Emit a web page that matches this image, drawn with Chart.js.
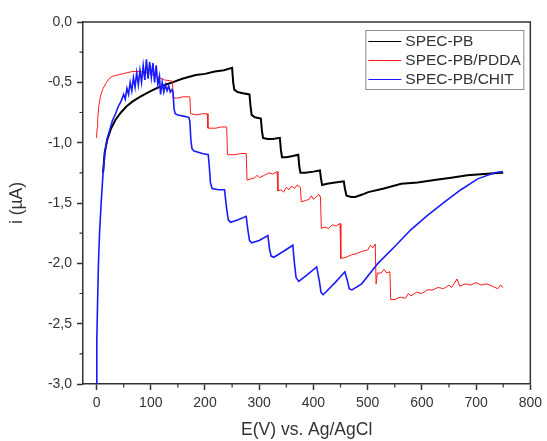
<!DOCTYPE html>
<html>
<head>
<meta charset="utf-8">
<script src="https://cdn.jsdelivr.net/npm/chart.js@4/dist/chart.umd.min.js"></script>
<style>
html,body{margin:0;padding:0;background:#fff;}
canvas{display:block;}
</style>
</head>
<body>
<canvas id="c" width="547" height="441"></canvas>
<script>
// ---- data ----
const seriesLabels = ['SPEC-PB', 'SPEC-PB/PDDA', 'SPEC-PB/CHIT'];
const xTickLabels = ['0','100','200','300','400','500','600','700','800'];
const yTickLabels = ['0,0','-0,5','-1,0','-1,5','-2,0','-2,5','-3,0'];

const pbE = [12,15,20,27,35,45,55,66,80,97,110,127,140,158,183,200,218,235,250,
  252,254,260,270,282,
  284,286,292,303,
  305,307,315,325,338,
  340,342,350,362,372,
  374,376,385,400,412,
  414,416,425,440,456,
  458,461,470,477,490,501,530,562,592,623,654,684,715,745,750];
const pbI = [-1.25,-1.08,-0.97,-0.88,-0.81,-0.75,-0.70,-0.66,-0.62,-0.58,-0.55,-0.52,-0.50,-0.47,-0.44,-0.43,-0.41,-0.40,-0.38,
  -0.50,-0.56,-0.58,-0.59,-0.60,
  -0.70,-0.77,-0.79,-0.80,
  -0.90,-0.96,-0.97,-0.97,-0.96,
  -1.06,-1.12,-1.12,-1.11,-1.10,
  -1.20,-1.25,-1.25,-1.24,-1.23,
  -1.30,-1.35,-1.34,-1.33,-1.32,
  -1.38,-1.44,-1.45,-1.45,-1.43,-1.41,-1.38,-1.34,-1.33,-1.31,-1.29,-1.27,-1.26,-1.25,-1.25];

const pddaE = [0,1,2,4,7,11,17,23,29,38,48,66,80,95,110,125,140,
  141.5,150,160,172,
  173.5,185,195,204,
  205.5,220,230,240,
  241.5,255,265,276,
  277.5,285,292,296,300,310,318,325,333,
  334.5,340,345,350,355,360,365,370,376,
  377.5,385,392,396,400,405,410,413,
  414.5,420,428,435,442,449,
  450.5,460,470,480,490,500,505,510,514,
  515.5,518,525,530,535,541,
  542.5,550,560,570,575,580,590,600,610,620,630,640,650,655,665,670,680,690,700,710,720,730,740,745,750];
const pddaI = [-0.96,-0.88,-0.81,-0.70,-0.62,-0.56,-0.51,-0.47,-0.45,-0.44,-0.43,-0.41,-0.41,-0.42,-0.45,-0.48,-0.49,
  -0.63,-0.63,-0.62,-0.62,
  -0.76,-0.77,-0.76,-0.76,
  -0.88,-0.88,-0.87,-0.87,
  -1.10,-1.10,-1.09,-1.09,
  -1.31,-1.30,-1.29,-1.27,-1.29,-1.27,-1.25,-1.26,-1.24,
  -1.40,-1.39,-1.41,-1.37,-1.39,-1.36,-1.38,-1.35,-1.37,
  -1.49,-1.48,-1.47,-1.44,-1.47,-1.45,-1.43,-1.45,
  -1.71,-1.70,-1.71,-1.68,-1.69,-1.67,
  -1.96,-1.95,-1.93,-1.92,-1.90,-1.89,-1.85,-1.87,-1.84,
  -2.17,-2.08,-2.08,-2.05,-2.08,-2.07,
  -2.30,-2.30,-2.28,-2.29,-2.25,-2.27,-2.24,-2.25,-2.22,-2.22,-2.20,-2.21,-2.18,-2.20,-2.13,-2.19,-2.17,-2.18,-2.16,-2.18,-2.17,-2.19,-2.21,-2.18,-2.20];

const chitE = [0,0.5,2,3.5,5.5,8.5,12,15,19,24,29,35,40,45,50,53,56,59,62,65,68,71,74,77,80,83,86,89,92,95,98,101,104,107,110,113,116,118,121,124,127,130,133,136,139,
  141,143,145,150,160,170,
  172,174,176,180,195,206,
  208,210,213,225,236,
  240,243,247,260,276,
  279,282,286,300,316,
  319,322,327,345,362,
  365,368,373,390,406,
  411,414,418,440,458,
  463,466,471,489,519,550,580,611,642,672,703,734,749];
const chitI = [-3.0,-2.63,-2.3,-2.0,-1.75,-1.5,-1.25,-1.1,-0.98,-0.9,-0.82,-0.76,-0.7,-0.66,-0.6,-0.64,-0.55,-0.6,-0.5,-0.57,-0.46,-0.54,-0.42,-0.52,-0.4,-0.5,-0.36,-0.48,-0.31,-0.47,-0.33,-0.46,-0.34,-0.5,-0.36,-0.52,-0.45,-0.6,-0.5,-0.58,-0.52,-0.57,-0.53,-0.58,-0.56,
  -0.58,-0.72,-0.76,-0.77,-0.78,-0.79,
  -0.82,-0.98,-1.05,-1.07,-1.09,-1.10,
  -1.20,-1.33,-1.38,-1.39,-1.39,
  -1.55,-1.64,-1.66,-1.64,-1.61,
  -1.72,-1.81,-1.83,-1.81,-1.77,
  -1.88,-1.94,-1.95,-1.90,-1.85,
  -2.00,-2.12,-2.15,-2.09,-2.03,
  -2.15,-2.24,-2.26,-2.16,-2.07,
  -2.15,-2.21,-2.22,-2.17,-2.00,-1.86,-1.72,-1.60,-1.49,-1.39,-1.30,-1.25,-1.24];

const seriesColors = ['#000000', '#ff1a1a', '#1a1aff'];

function pts(xs, ys){ return xs.map((x,i)=>({x:x, y:ys[i]})); }

const FONT = "'Liberation Sans', Arial, sans-serif";
const AX = '#333333';

const framePlugin = {
  id: 'frame',
  afterDraw(chart){
    const {ctx, chartArea:a, scales} = chart;
    ctx.save();
    // frame (top & right sides)
    ctx.strokeStyle = AX; ctx.lineWidth = 1.5;
    ctx.beginPath();
    ctx.moveTo(a.left, a.top); ctx.lineTo(a.right, a.top); ctx.lineTo(a.right, a.bottom);
    ctx.stroke();
    // minor ticks
    ctx.lineWidth = 1.2;
    ctx.beginPath();
    for (let v = 50; v < 800; v += 100){
      const px = scales.x.getPixelForValue(v);
      ctx.moveTo(px, a.bottom); ctx.lineTo(px, a.bottom + 3.5);
    }
    for (let v = -0.25; v > -3; v -= 0.5){
      const py = scales.y.getPixelForValue(v);
      ctx.moveTo(a.left, py); ctx.lineTo(a.left - 3.5, py);
    }
    ctx.stroke();
    // legend box
    const bx = a.right - 165, by = a.top + 8, bw = 158, bh = 59;
    ctx.strokeStyle = '#8a8a8a'; ctx.lineWidth = 1;
    ctx.strokeRect(bx + 0.5, by + 0.5, bw, bh);
    ctx.font = '15.5px ' + FONT;
    ctx.textBaseline = 'middle';
    chart.data.datasets.forEach((ds, i) => {
      const y = by + 11.5 + i * 19;
      ctx.strokeStyle = ds.borderColor; ctx.lineWidth = 1.2;
      ctx.beginPath(); ctx.moveTo(bx + 3, y); ctx.lineTo(bx + 36, y); ctx.stroke();
      ctx.fillStyle = AX;
      ctx.fillText(ds.label, bx + 40, y + 0.5);
    });
    ctx.restore();
  }
};

new Chart(document.getElementById('c'), {
  type: 'line',
  data: {
    datasets: [
      {label: seriesLabels[0], data: pts(pbE, pbI), borderColor: seriesColors[0], borderWidth: 2, order: 2},
      {label: seriesLabels[1], data: pts(pddaE, pddaI), borderColor: seriesColors[1], borderWidth: 1, order: 1},
      {label: seriesLabels[2], data: pts(chitE, chitI), borderColor: seriesColors[2], borderWidth: 1.6, order: 0}
    ]
  },
  options: {
    responsive: false,
    animation: false,
    parsing: true,
    elements: { point: { radius: 0 }, line: { tension: 0, fill: false } },
    layout: { padding: { left: 0, top: 22, right: 14, bottom: 0 } },
    plugins: { legend: { display: false }, tooltip: { enabled: false } },
    scales: {
      x: {
        type: 'linear', min: -25, max: 800,
        afterFit(s){ s.height = 57; },
        border: { display: true, color: AX, width: 1.5 },
        grid: { drawOnChartArea: false, drawTicks: true, tickLength: 6, tickColor: AX, tickWidth: 1.5 },
        ticks: {
          stepSize: 100, includeBounds: false, color: AX, padding: 5,
          font: { family: FONT, size: 14 }, maxRotation: 0, autoSkip: false,
          callback: (v) => { const i = Math.round(v / 100); return xTickLabels[i] !== undefined && Math.abs(v - i*100) < 1e-6 ? xTickLabels[i] : ''; }
        },
        title: { display: true, text: 'E(V) vs. Ag/AgCl', color: AX, font: { family: FONT, size: 17.5 }, padding: { top: 0, bottom: 0 } }
      },
      y: {
        type: 'linear', min: -3, max: 0,
        afterFit(s){ s.width = 83; },
        border: { display: true, color: AX, width: 1.5 },
        grid: { drawOnChartArea: false, drawTicks: true, tickLength: 6, tickColor: AX, tickWidth: 1.5 },
        ticks: {
          stepSize: 0.5, includeBounds: false, color: AX, padding: 5,
          font: { family: FONT, size: 14 }, autoSkip: false,
          callback: (v) => { const i = Math.round(-v / 0.5); return yTickLabels[i] !== undefined ? yTickLabels[i] : ''; }
        },
        title: { display: true, text: 'i (\u00b5A)', color: AX, font: { family: FONT, size: 17.5 }, padding: { top: 7, bottom: 0 } }
      }
    }
  },
  plugins: [framePlugin]
});
</script>
</body>
</html>
